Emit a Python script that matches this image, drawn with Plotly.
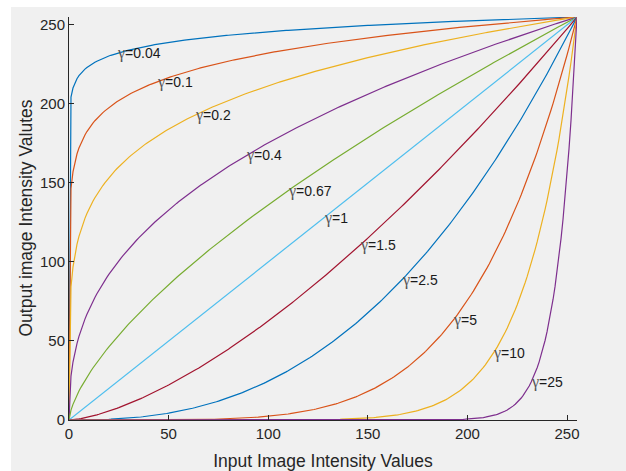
import numpy as np
import plotly.graph_objects as go

# Input intensity levels of an 8-bit image
intensity = np.arange(0, 256)

# Gamma values of the power-law transforms, with their curve colours
gammas = [0.04, 0.1, 0.2, 0.4, 0.67, 1, 1.5, 2.5, 5, 10, 25]
colors = ["#0072BD", "#D95319", "#EDB120", "#7E2F8E", "#77AC30", "#4DBEEE",
          "#A2142F", "#0072BD", "#D95319", "#EDB120", "#7E2F8E"]
# Input level at which each curve is labelled
label_x = [24, 44, 63, 89, 110, 128, 146, 167, 193, 213, 232]

x_ticks = [0, 50, 100, 150, 200, 250]
y_ticks = [0, 50, 100, 150, 200, 250]

W, H = 626, 471
L, R, T, B = 69, 49, 17, 51
pw, ph = W - L - R, H - T - B


def transform(r, g):
    return 255.0 * (r / 255.0) ** g


fig = go.Figure()
for g, c in zip(gammas, colors):
    fig.add_trace(go.Scatter(x=intensity, y=transform(intensity, g), mode="lines",
                             line=dict(color=c, width=1.2), showlegend=False,
                             hoverinfo="skip"))

for g, lx in zip(gammas, label_x):
    fig.add_annotation(x=lx, y=float(transform(lx, g)), xref="x", yref="y",
                       text="<span style='font-family:Liberation Serif;font-size:16px;color:#555555'>γ</span>=" + str(g),
                       showarrow=False, xanchor="left", yanchor="middle", xshift=-2,
                       font=dict(family="Liberation Sans", size=14, color="#1a1a1a"))

# Vertical axis title
fig.add_annotation(x=(25 - L) / pw, y=0.5, xref="paper", yref="paper",
                   text="Output image Intensity Valutes", textangle=-90,
                   showarrow=False, xanchor="center", yanchor="middle",
                   font=dict(family="Liberation Sans", size=17.5, color="#262626"))

# Grey figure panel behind the axes
fig.add_shape(type="rect", xref="paper", yref="paper", layer="below",
              x0=(11 - L) / pw, x1=(W + 5 - L) / pw,
              y0=-(B + 5) / ph, y1=(ph + T - 7) / ph,
              fillcolor="#f0f0f0", line=dict(width=0))

axis_common = dict(showgrid=False, zeroline=False, showline=True, linecolor="#262626",
                   linewidth=1, ticks="inside", ticklen=5, tickcolor="#262626",
                   tickfont=dict(family="Liberation Sans", size=15, color="#262626"),
                   mirror=False, automargin=False)

fig.update_xaxes(range=[0, 255], tickvals=x_ticks,
                 title=dict(text="Input Image Intensity Values",
                            font=dict(family="Liberation Sans", size=17.5, color="#262626")),
                 **axis_common)
fig.update_yaxes(range=[0, 255], tickvals=y_ticks, **axis_common)

fig.update_layout(width=W, height=H, margin=dict(l=L, r=R, t=T, b=B),
                  paper_bgcolor="white", plot_bgcolor="white")

fig.write_html("out.html")
